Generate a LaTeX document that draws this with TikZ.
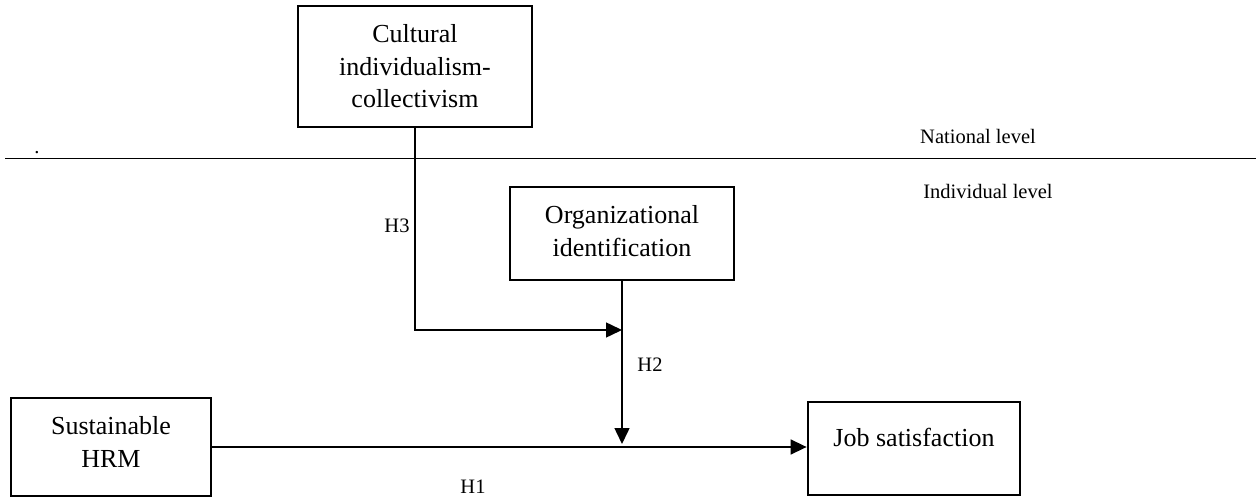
\documentclass[tikz,border=0pt]{standalone}
\usepackage{fontspec}
\setmainfont{Liberation Serif}
\usetikzlibrary{arrows.meta}
\begin{document}
\begin{tikzpicture}[x=1pt,y=-1pt,
  box/.style={draw, line width=2.8pt, inner sep=0pt, align=center,
    font=\fontsize{26}{32.5}\selectfont},
  boxtext/.style={inner sep=0pt, align=center, font=\fontsize{26}{32.5}\selectfont},
  small/.style={inner sep=0pt, font=\fontsize{20.5}{24}\selectfont},
  conn/.style={line width=1.5pt},
  arr/.style={conn, -{Triangle[length=16pt,width=15pt]}}]
\useasboundingbox (0,0) rectangle (1256,497);
% divider
\coordinate (divl) at (5,158.5);
\coordinate (divr) at (1256,158.5);
\draw[conn] (divl) -- (divr);
\node[small] (dot) at (37,153) {.};
\node[small] (nat) at (978,136) {National level};
\node[small] (ind) at (988,191) {Individual level};
% boxes
\node[box, minimum width=234, minimum height=121] (cult) at (415,66.5) {Cultural\\individualism-\\collectivism};
\node[box, minimum width=224, minimum height=93] (org) at (622,233.5) {};
\node[boxtext] (orgt) at (622,231) {Organizational\\identification};
\node[box, minimum width=200, minimum height=98] (hrm) at (111,447) {};
\node[boxtext] (hrmt) at (111,442) {Sustainable\\HRM};
\node[box, minimum width=212, minimum height=93] (job) at (914,448.5) {};
\node[boxtext] (jobt) at (914,437) {Job satisfaction};
% connectors
\coordinate (j2) at (622,330);
\coordinate (j1) at (622,444);
\draw[arr] (cult.south) |- (j2);
\draw[arr] (org.south) -- (j1);
\draw[arr] (hrm.east |- 0,447) -- (job.west |- 0,447);
% hypothesis labels
\node[small] (h3) at (397,226) {H3};
\node[small] (h2) at (650,365) {H2};
\node[small] (h1) at (473,487) {H1};
\end{tikzpicture}
\end{document}
